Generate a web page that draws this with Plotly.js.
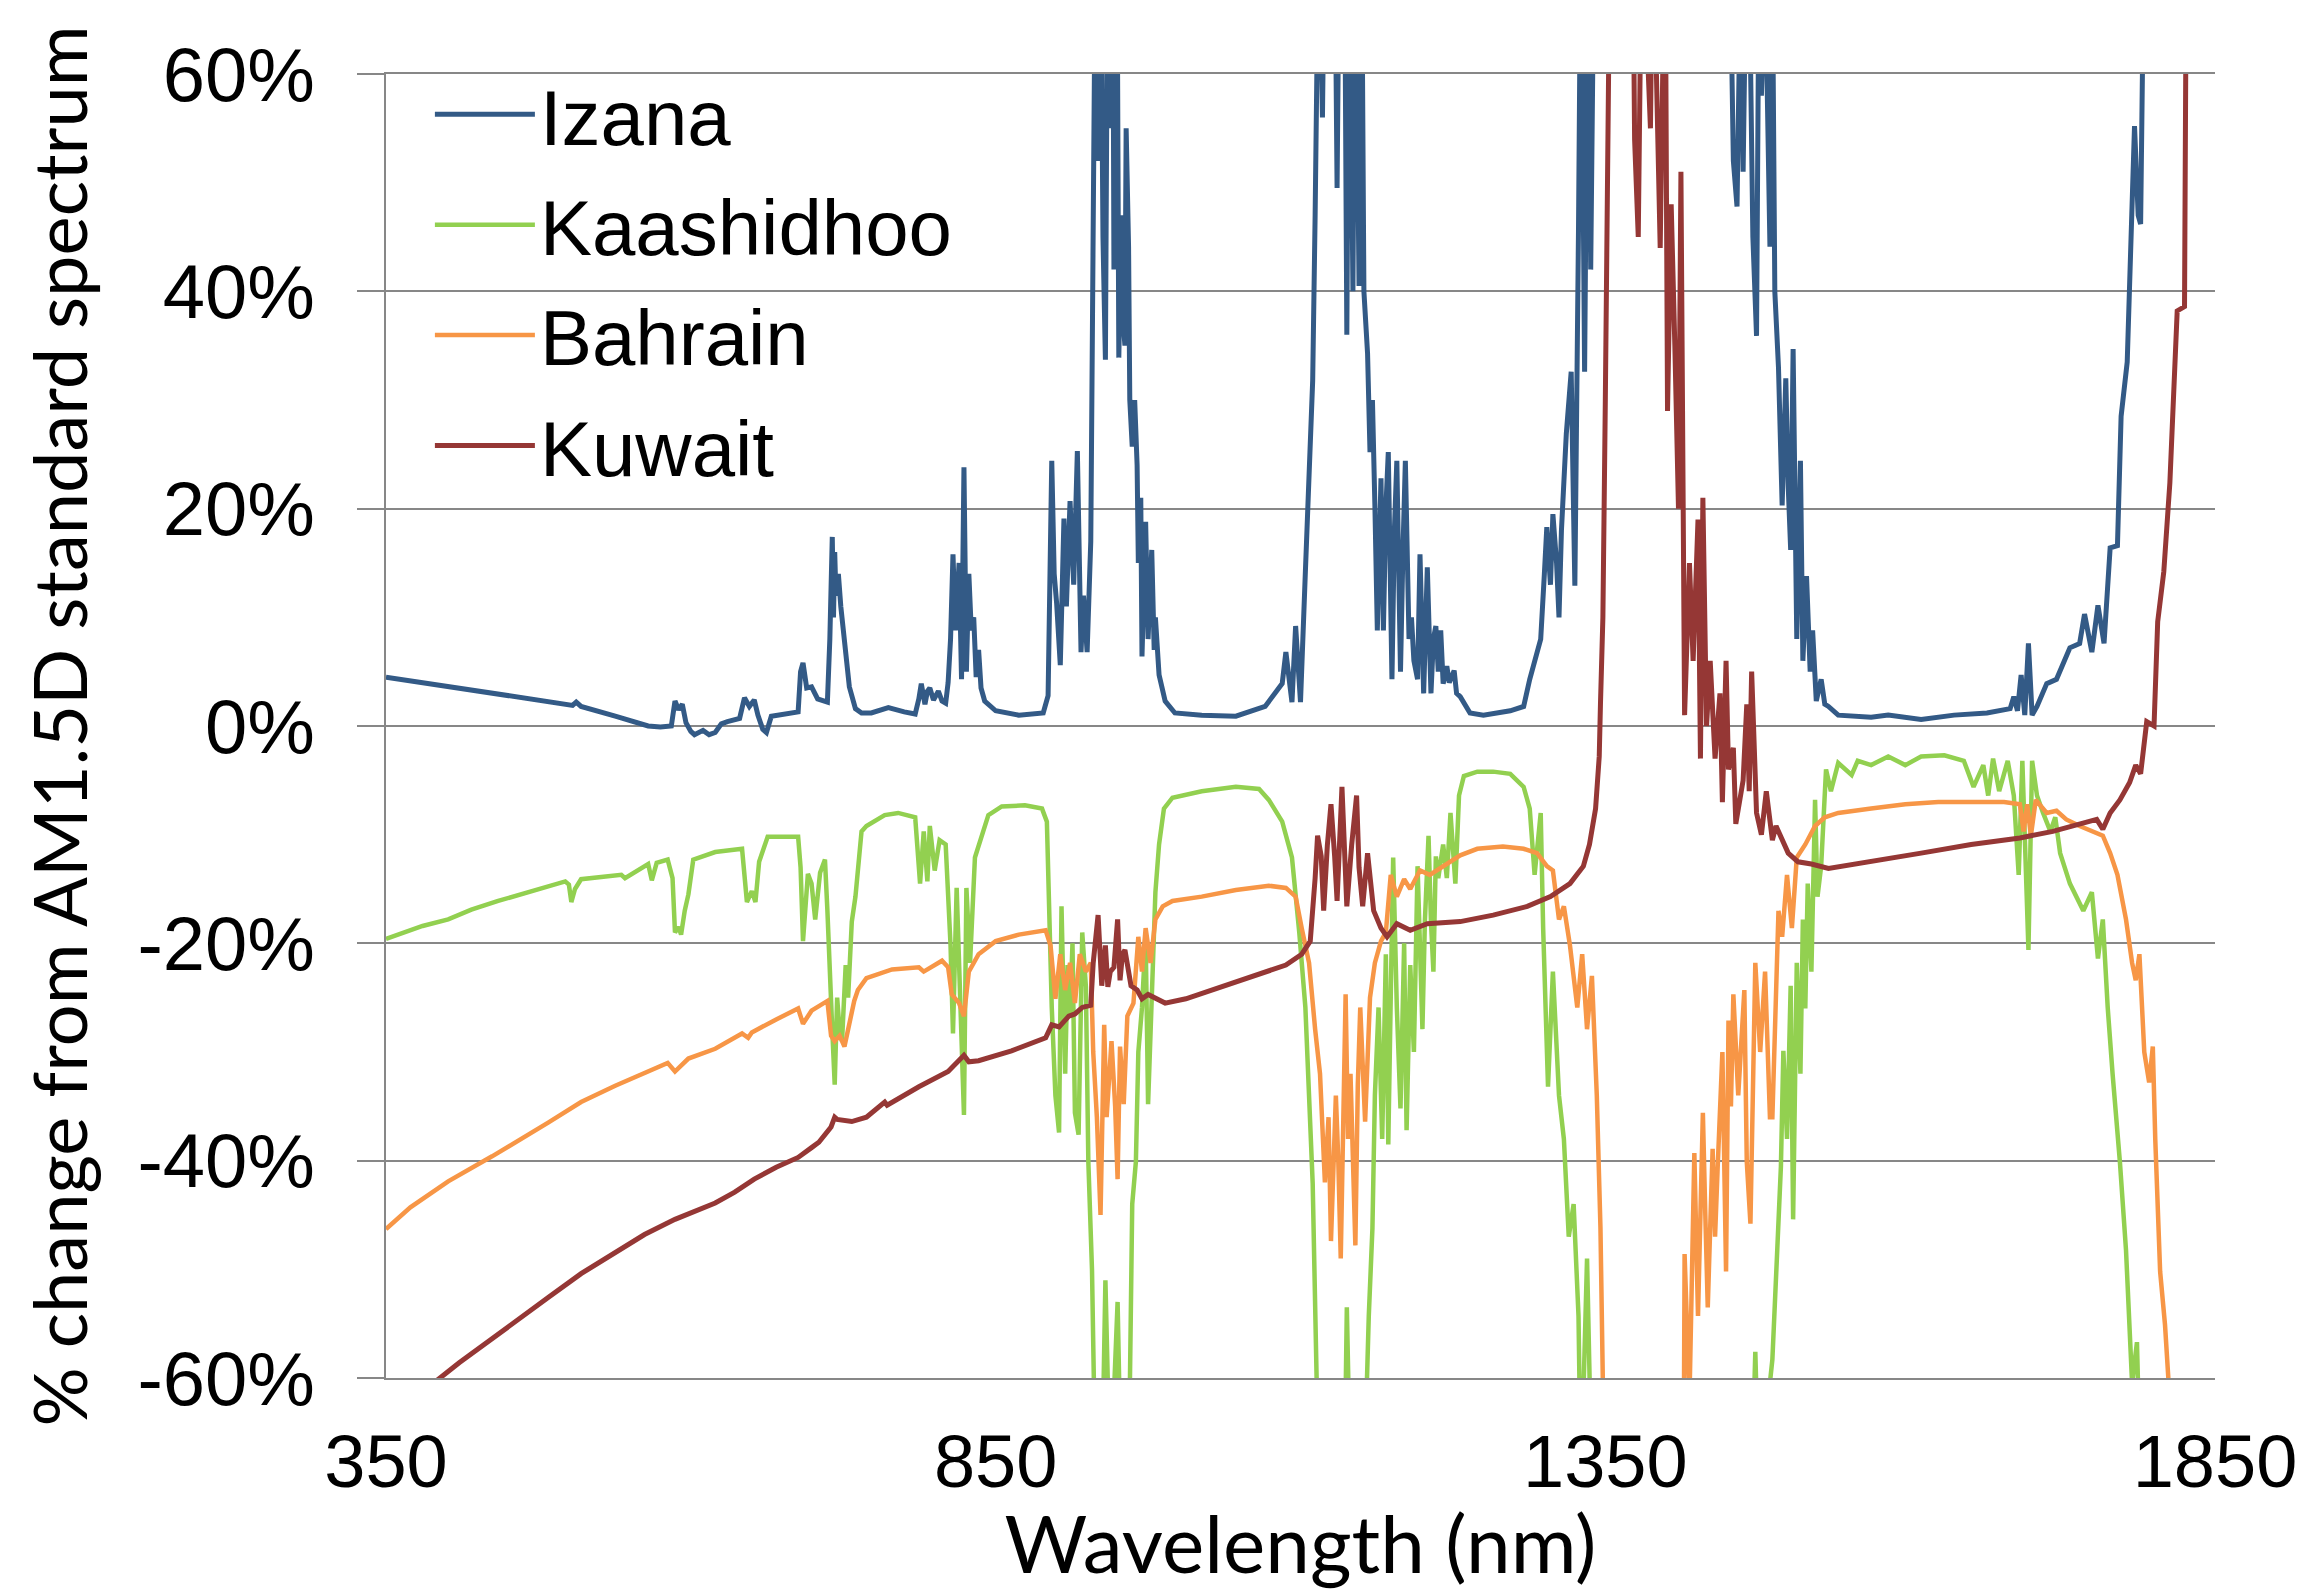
<!DOCTYPE html>
<html>
<head>
<meta charset="utf-8">
<script src="https://cdn.plot.ly/plotly-3.0.1.min.js"></script>
<style>
  html, body { margin: 0; padding: 0; background: #ffffff; }
  #chart { width: 2298px; height: 1590px; }
</style>
</head>
<body>
<div id="chart"></div>
<script>
// ---- Data: [wavelength (nm), % change from AM1.5D] ----
const seriesNames = ['Izana', 'Kaashidhoo', 'Bahrain', 'Kuwait'];
const seriesColors = ['#335A86', '#92D050', '#F79646', '#953735'];

const izana = [[350,4.5],[380,4.0],[401,3.6],[430,3.1],[456,2.7],[480,2.3],[503,1.9],[506,2.2],[510,1.8],[538,0.9],[555,0.4],[565,0.0],[575,-0.1],[584,0.0],[587,2.3],[590,1.5],[593,2.0],[596,0.3],[600,-0.5],[603,-0.8],[610,-0.4],[615,-0.8],[620,-0.6],[625,0.2],[630,0.4],[635,0.6],[640,0.7],[644,2.6],[648,1.8],[652,2.4],[655,1.0],[659,-0.3],[662,-0.6],[666,0.9],[675,1.1],[688,1.3],[690,5.0],[692,5.8],[695,3.5],[699,3.6],[704,2.5],[708,2.3],[712,2.2],[714,8],[716,17.4],[717,10],[718,16],[719,12],[721,14],[723,11],[725,9],[727,6],[730,3.6],[735,1.6],[740,1.2],[748,1.2],[762,1.7],[775,1.3],[784,1.1],[787,2.5],[789,3.9],[792,2.0],[794,3.2],[796,3.5],[799,2.4],[803,3.2],[806,2.3],[809,2.1],[811,4],[813,8],[815,15.8],[817,8.8],[820,15],[822,4.3],[824,23.8],[826,5],[828,14],[830,8.8],[832,10],[834,4.5],[836,7],[838,3.5],[841,2.3],[850,1.4],[869,1.0],[889,1.2],[893,2.8],[896,24.4],[898,14],[900,11.3],[903,5.6],[906,19.1],[908,11],[911,20.7],[914,13],[917,25.3],[920,6.8],[922,12],[925,6.8],[928,17],[930,44],[931,60],[932,75],[934,52],[936,75],[938,45],[940,33.7],[942,75],[944,55],[946,75],[947,42],[948,75],[950,60],[951,33.9],[953,47],[954,38],[956,35],[957,55],[959,44.1],[960,30],[962,25.7],[964,30],[966,24],[967,15],[969,21],[970,6.4],[973,18.8],[975,8],[978,16.2],[980,7],[981,10],[984,4.7],[989,2.3],[997,1.2],[1019,1.0],[1047,0.9],[1071,1.8],[1085,3.9],[1088,6.8],[1093,2.2],[1096,9.2],[1100,2.2],[1104,14.2],[1107,24],[1110,31.8],[1112,47],[1115,75],[1118,56],[1120,75],[1128,75],[1130,49.5],[1132,75],[1136,75],[1138,36],[1140,75],[1143,40],[1145,75],[1148,40.5],[1150,75],[1152,40],[1155,34.3],[1157,25.2],[1159,30],[1161,20.3],[1163,8.8],[1166,22.8],[1168,8.8],[1170,20],[1172,25.2],[1175,4.3],[1177,18],[1179,24.4],[1182,5],[1184,16],[1186,24.4],[1189,8],[1191,10],[1193,6],[1196,4.3],[1198,15.8],[1201,3],[1204,14.6],[1207,3],[1209,8],[1211,9.2],[1213,5],[1215,8.8],[1217,3.9],[1220,5.5],[1222,4],[1226,5.1],[1228,3],[1231,2.7],[1239,1.2],[1250,1.0],[1272,1.4],[1283,1.8],[1288,4.3],[1292,6],[1297,8],[1300,14],[1302,18.3],[1305,13],[1307,19.5],[1310,15],[1312,10],[1314,18],[1316,22.4],[1318,26.9],[1322,32.6],[1325,12.9],[1328,45.8],[1330,75],[1333,32.6],[1336,75],[1338,42],[1341,75],[1451,80],[1455,52],[1458,47.8],[1461,70],[1463,51],[1466,75],[1468,70],[1471,45],[1474,35.9],[1476,70],[1478,58],[1481,70],[1485,44.1],[1487,70],[1489,40],[1492,33],[1495,20.3],[1498,32],[1500,22],[1502,16.2],[1504,34.7],[1507,8],[1510,24.4],[1512,6],[1515,13.8],[1518,5],[1520,8.8],[1523,2.3],[1527,4.3],[1530,2],[1533,1.8],[1541,1.0],[1568,0.8],[1582,1.0],[1609,0.6],[1636,1.0],[1663,1.2],[1682,1.6],[1685,2.7],[1688,1.4],[1691,4.7],[1694,1.0],[1697,7.6],[1700,1.0],[1704,1.8],[1712,3.9],[1720,4.3],[1731,7.2],[1739,7.6],[1743,10.3],[1749,6.8],[1754,11.1],[1759,7.6],[1764,16.4],[1770,16.6],[1773,28.5],[1778,33.5],[1781,42.9],[1784,55.2],[1787,47],[1789,46.2],[1791,65],[1795,80]];

const kaashidhoo = [[350,-19.6],[380,-18.4],[401,-17.8],[420,-16.9],[442,-16.1],[470,-15.2],[497,-14.3],[500,-14.6],[502,-16.2],[505,-15.0],[510,-14.1],[543,-13.7],[546,-14.0],[565,-12.7],[568,-14.2],[572,-12.6],[581,-12.3],[585,-14],[587,-19],[590,-18.5],[592,-19.2],[595,-17],[598,-15.5],[602,-12.3],[620,-11.6],[642,-11.3],[646,-16.2],[650,-15.2],[653,-16.2],[656,-12.5],[663,-10.2],[688,-10.2],[690,-13],[692,-19.8],[696,-13.6],[699,-14.5],[702,-17.8],[706,-13.5],[710,-12.3],[712,-17],[714,-23.6],[716,-28],[718,-33],[720,-25],[722,-28],[724,-29],[727,-22],[729,-25],[732,-18],[735,-15.7],[740,-9.7],[744,-9.2],[759,-8.2],[770,-8.0],[784,-8.4],[788,-14.5],[791,-9.7],[794,-14.3],[796,-9.2],[800,-13.3],[804,-10.5],[809,-10.9],[813,-20.2],[815,-28.3],[818,-14.9],[821,-25.9],[824,-35.8],[826,-14.9],[829,-21.8],[833,-12.1],[839,-10.0],[844,-8.2],[855,-7.4],[874,-7.3],[888,-7.6],[892,-8.8],[896,-25.9],[899,-34],[902,-37.4],[904,-16.6],[907,-32],[909,-22],[911,-26.7],[913,-20],[915,-35.6],[918,-37.6],[921,-19],[924,-24],[926,-40.1],[929,-50],[932,-70],[937,-70],[940,-51],[944,-70],[950,-53],[953,-70],[959,-70],[962,-44],[965,-40.1],[967,-30],[970,-25.9],[973,-19.4],[975,-34.8],[978,-23.4],[981,-15.3],[984,-10.9],[988,-7.6],[995,-6.6],[1019,-6.0],[1047,-5.6],[1066,-5.8],[1074,-6.8],[1085,-8.8],[1093,-12.1],[1099,-19],[1104,-25.9],[1110,-42.1],[1115,-70],[1136,-70],[1138,-53.5],[1141,-70],[1152,-70],[1156,-54.3],[1159,-46.2],[1161,-34],[1164,-25.9],[1167,-38],[1170,-21],[1172,-38.5],[1174,-25],[1176,-12.1],[1179,-25.9],[1182,-35.2],[1185,-20],[1187,-37.2],[1190,-22],[1193,-30],[1196,-12.9],[1198,-20],[1200,-27.9],[1202,-18],[1205,-10.1],[1207,-18],[1209,-22.6],[1211,-12],[1213,-14],[1217,-10.9],[1220,-14],[1223,-8.0],[1227,-14.5],[1230,-6.4],[1234,-4.6],[1245,-4.2],[1258,-4.2],[1272,-4.4],[1283,-5.6],[1288,-7.6],[1292,-13.7],[1297,-8.0],[1299,-18.6],[1303,-33.2],[1307,-22.6],[1312,-34],[1316,-38],[1320,-47],[1324,-44],[1328,-54.3],[1330,-70],[1335,-49],[1339,-70],[1470,-70],[1473,-57.6],[1476,-70],[1487,-58.3],[1491,-48.2],[1494,-40.5],[1496,-29.9],[1499,-38],[1502,-23.9],[1504,-45.4],[1507,-21.8],[1510,-32],[1512,-17.8],[1514,-26],[1516,-14.5],[1519,-22.6],[1522,-6.8],[1524,-15.7],[1527,-12.9],[1531,-4.0],[1535,-6.0],[1541,-3.4],[1552,-4.5],[1557,-3.2],[1568,-3.6],[1582,-2.8],[1596,-3.6],[1609,-2.8],[1628,-2.7],[1644,-3.2],[1652,-5.6],[1660,-3.6],[1664,-6.4],[1668,-3.0],[1673,-6.0],[1680,-3.2],[1685,-6.4],[1689,-13.7],[1692,-3.2],[1694,-9.2],[1697,-20.6],[1700,-3.2],[1704,-6.4],[1709,-8.0],[1715,-9.7],[1719,-8.4],[1723,-11.7],[1731,-14.5],[1742,-17],[1749,-15.3],[1754,-21.4],[1758,-17.8],[1762,-25.9],[1766,-32],[1772,-40.1],[1777,-48.2],[1782,-60.5],[1786,-56.7],[1789,-70],[1795,-75]];

const bahrain = [[350,-46.3],[370,-44.3],[401,-41.9],[437,-39.6],[483,-36.5],[510,-34.6],[538,-33.1],[560,-32.0],[581,-31.0],[587,-31.8],[592,-31.2],[598,-30.6],[620,-29.7],[642,-28.3],[647,-28.7],[650,-28.2],[670,-27.0],[688,-26.0],[692,-27.4],[699,-26.2],[712,-25.3],[715,-28.5],[718,-29],[722,-28.5],[726,-29.5],[729,-28],[734,-25.3],[737,-24.3],[744,-23.2],[765,-22.4],[787,-22.2],[791,-22.6],[806,-21.6],[811,-22.2],[814,-24.7],[820,-25.5],[824,-26.7],[828,-22.6],[836,-21],[850,-19.8],[869,-19.2],[891,-18.8],[895,-20.2],[899,-25.1],[903,-21],[907,-24.3],[911,-21.8],[915,-25.5],[919,-21],[924,-22.6],[928,-21.8],[930,-30],[933,-36],[936,-45],[939,-27.5],[941,-36],[945,-29],[948,-35],[950,-41.7],[952,-29.5],[955,-34.8],[958,-26.7],[961,-26],[963,-25.5],[967,-19.4],[970,-22.6],[973,-18.6],[977,-21.8],[981,-17.8],[987,-16.6],[995,-16.1],[1019,-15.7],[1047,-15.1],[1074,-14.7],[1088,-14.9],[1096,-15.7],[1101,-18.6],[1107,-21.8],[1112,-27.9],[1116,-32],[1120,-42],[1123,-36],[1125,-47.4],[1129,-34],[1131,-40],[1133,-49],[1137,-24.7],[1139,-38],[1141,-32],[1145,-47.8],[1147,-33],[1149,-25.9],[1153,-36.4],[1157,-25],[1161,-21.8],[1166,-19.8],[1170,-19],[1174,-13.7],[1179,-15.7],[1185,-14.1],[1190,-15],[1198,-13.3],[1206,-13.7],[1217,-12.9],[1231,-11.9],[1245,-11.3],[1266,-11.1],[1283,-11.3],[1294,-11.7],[1302,-12.9],[1307,-13.3],[1312,-17.8],[1316,-16.6],[1321,-20.2],[1327,-25.9],[1331,-21],[1335,-27.9],[1339,-23],[1343,-34],[1346,-46.2],[1348,-60.5],[1350,-75],[1414,-75],[1415,-48.6],[1419,-62],[1421,-50],[1423,-39.3],[1426,-54.3],[1430,-35.6],[1432,-45],[1434,-53.5],[1438,-38.9],[1440,-47],[1442,-41],[1446,-30],[1449,-50.2],[1451,-27.1],[1453,-35],[1455,-24.7],[1459,-34],[1462,-28],[1464,-24.3],[1466,-40.1],[1469,-45.8],[1473,-21.8],[1477,-30],[1481,-22.6],[1485,-36],[1487,-36],[1490,-22.6],[1492,-17],[1495,-19.4],[1499,-13.7],[1503,-18.6],[1507,-12.1],[1514,-10.9],[1522,-9.2],[1530,-8.4],[1541,-8.0],[1568,-7.6],[1596,-7.2],[1623,-7.0],[1650,-7.0],[1677,-7.0],[1690,-7.2],[1693,-9.7],[1696,-7.2],[1699,-10.1],[1703,-6.8],[1712,-8.0],[1720,-7.8],[1728,-8.6],[1739,-9.2],[1750,-9.7],[1758,-10.1],[1764,-11.7],[1770,-13.7],[1777,-17.8],[1782,-21.8],[1785,-23.4],[1788,-21],[1792,-30],[1796,-32.8],[1799,-29.5],[1801,-38],[1805,-50.2],[1809,-55.1],[1812,-60.5],[1815,-70]];

const kuwait = [[388,-61.5],[392,-60.2],[410,-58.6],[428,-57.1],[455,-54.8],[483,-52.6],[510,-50.4],[538,-48.4],[562,-46.8],[587,-45.4],[605,-44.6],[620,-43.9],[636,-42.9],[652,-41.7],[670,-40.6],[688,-39.7],[699,-38.8],[705,-38.3],[715,-36.9],[718,-36.0],[720,-36.2],[732,-36.4],[744,-36.0],[752,-35.3],[759,-34.6],[761,-34.9],[787,-33.2],[811,-31.8],[820,-30.8],[824,-30.3],[828,-30.9],[836,-30.8],[863,-29.9],[891,-28.7],[896,-27.5],[902,-27.7],[910,-26.7],[915,-26.5],[921,-25.9],[928,-25.7],[930,-21.8],[934,-17.4],[937,-23.9],[940,-20.2],[942,-24],[944,-22.6],[947,-22.2],[950,-17.8],[952,-23.4],[954,-21],[956,-20.6],[958,-22],[961,-23.9],[966,-24.3],[970,-25.1],[975,-24.7],[981,-25.1],[989,-25.5],[1006,-25.1],[1033,-24.1],[1060,-23.0],[1088,-22.0],[1101,-21.0],[1108,-19.8],[1112,-14],[1114,-10.1],[1117,-12],[1119,-17],[1122,-11],[1125,-7.2],[1128,-12],[1130,-16.1],[1134,-5.6],[1136,-12],[1138,-16.6],[1142,-10.9],[1146,-6.4],[1148,-13],[1151,-16.6],[1155,-11.7],[1160,-17],[1166,-18.6],[1171,-19.4],[1179,-18.2],[1190,-18.8],[1204,-18.2],[1231,-18.0],[1258,-17.4],[1286,-16.6],[1305,-15.7],[1321,-14.5],[1332,-12.9],[1337,-10.9],[1342,-7.6],[1345,-2.8],[1346,2],[1348,10],[1350,30],[1352,55],[1354,75],[1372,80],[1374,54],[1377,45],[1380,75],[1387,55],[1389,75],[1395,44],[1399,75],[1401,29],[1404,48],[1407,35],[1410,20],[1412,51],[1415,1],[1419,15],[1422,6],[1426,19],[1428,-3],[1430,21],[1433,0],[1436,6],[1440,-3],[1444,3],[1446,-7],[1449,6],[1451,-4],[1455,-2],[1457,-9],[1463,-5],[1466,2],[1468,-6],[1470,5],[1474,-8],[1478,-10],[1482,-6],[1487,-10.5],[1490,-9.2],[1495,-10.5],[1500,-11.7],[1508,-12.5],[1519,-12.7],[1533,-13.1],[1568,-12.5],[1609,-11.7],[1650,-10.9],[1690,-10.3],[1717,-9.7],[1745,-8.8],[1753,-8.6],[1758,-9.5],[1764,-8.0],[1772,-6.8],[1780,-5.2],[1785,-3.6],[1789,-4.4],[1794,0.4],[1800,0.0],[1803,9.6],[1808,14.2],[1813,22.4],[1817,32.6],[1819,38.2],[1825,38.6],[1826,60.5],[1830,75]];

const xTickVals = [350, 850, 1350, 1850];
const xTickText = ['350', '850', '1350', '1850'];
const yTickVals = [-60, -40, -20, 0, 20, 40, 60];
const yTickText = ['-60%', '-40%', '-20%', '0%', '20%', '40%', '60%'];
const xTitle = 'Wavelength (nm)';
const yTitle = '% change from AM1.5D standard spectrum';

// ---- Build traces ----
const allSeries = [izana, kaashidhoo, bahrain, kuwait];
const lineWidths = [5, 4.5, 4.5, 5];
const traces = allSeries.map((s, i) => ({
  type: 'scatter',
  mode: 'lines',
  name: seriesNames[i],
  legendgroup: seriesNames[i],
  x: s.map(p => p[0]),
  y: s.map(p => p[1]),
  line: { color: seriesColors[i], width: lineWidths[i] },
  hoverinfo: 'skip'
}));

const gridGray = '#878787';
const baseFont = { family: 'Liberation Sans, Arial, sans-serif', size: 74, color: '#000000' };
const yTickFont = { family: 'Liberation Sans, Arial, sans-serif', size: 76, color: '#000000' };
const legendFont = { family: 'Liberation Sans, Arial, sans-serif', size: 78, color: '#000000' };

const layout = {
  width: 2298,
  height: 1590,
  margin: { l: 386, r: 83, t: 74, b: 212, pad: 0 },
  paper_bgcolor: '#ffffff',
  plot_bgcolor: '#ffffff',
  font: baseFont,
  showlegend: true,
  legend: {
    x: 0.024, y: 1.013, xanchor: 'left', yanchor: 'top',
    bgcolor: 'rgba(0,0,0,0)', borderwidth: 0,
    font: legendFont, itemwidth: 100, tracegroupgap: 6, traceorder: 'grouped'
  },
  xaxis: {
    range: [350, 1850], tickmode: 'array', tickvals: xTickVals, ticktext: xTickText,
    ticks: '', showgrid: false, zeroline: false,
    showline: true, mirror: true, linecolor: gridGray, linewidth: 2,
    tickfont: baseFont, ticklabelstandoff: 18,
    title: { text: xTitle, font: { family: 'Lato, sans-serif', size: 80, color: '#000000' }, standoff: 74 }
  },
  xaxis2: {
    overlaying: 'x', anchor: 'free', position: 0.5, range: [350, 1850],
    tickmode: 'linear', tick0: 350, dtick: 100, ticks: 'inside', ticklen: 13, tickwidth: 2, tickcolor: gridGray,
    showticklabels: false, showgrid: false, zeroline: false, showline: false
  },
  xaxis3: {
    overlaying: 'x', anchor: 'free', position: 0.5, range: [350, 1850],
    tickmode: 'linear', tick0: 350, dtick: 100, ticks: 'outside', ticklen: 9, tickwidth: 2, tickcolor: gridGray,
    showticklabels: false, showgrid: false, zeroline: false, showline: false
  },
  yaxis: {
    range: [-60, 60], tickmode: 'array', tickvals: yTickVals, ticktext: yTickText,
    ticks: 'outside', ticklen: 27, tickwidth: 2, tickcolor: gridGray,
    showgrid: true, gridcolor: gridGray, gridwidth: 2,
    zeroline: true, zerolinecolor: gridGray, zerolinewidth: 2,
    showline: true, linecolor: gridGray, linewidth: 2,
    tickfont: yTickFont, ticklabelstandoff: 27,
    title: { text: yTitle, font: { family: 'Lato, sans-serif', size: 74, color: '#000000' }, standoff: 25 }
  }
};

Plotly.newPlot('chart', traces, layout, { displayModeBar: false, staticPlot: true });
</script>
</body>
</html>
